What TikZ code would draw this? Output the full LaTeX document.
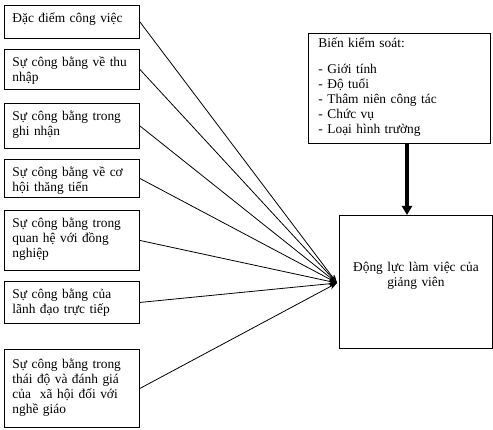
\documentclass[tikz,border=0pt]{standalone}
\usepackage{fontspec}
\setmainfont{Liberation Serif}
\usetikzlibrary{arrows.meta}
\tikzset{
  box/.style={draw, line width=0.9pt, anchor=north west, text width=119pt, align=left,
    inner xsep=8pt, inner ysep=6pt, text height=11pt},
  link/.style={line width=0.8pt, -{Stealth[length=8pt,width=6pt]}}
}
\begin{document}
\begin{tikzpicture}[x=1pt, y=-1pt, font=\fontsize{13.4}{15}\selectfont]
        \useasboundingbox (0,0) rectangle (493,430);
        % boxes
        \node [box, text depth=10pt] (b1) at (4,5) {Đặc điểm công việc};
        \node [box, text depth=17pt] (b2) at (4,49) {Sự công bằng về thu\\nhập};
        \node [box, text depth=22pt] (b3) at (4,103) {Sự công bằng trong\\ghi nhận};
        \node [box, text depth=15pt] (b4) at (4,159) {Sự công bằng về cơ\\hội thăng tiến};
        \node [box, text depth=37pt] (b5) at (4,210) {Sự công bằng trong\\quan hệ với đồng\\nghiệp};
        \node [box, text depth=19pt] (b6) at (4,281) {Sự công bằng của\\lãnh đạo trực tiếp};
        \node [box, text depth=51pt, inner ysep=8pt] (b7) at (4,349) {Sự công bằng trong\\thái độ và đánh giá\\của~ xã hội đối với\\nghề giáo};
        
        \node [box, text width=162pt, inner xsep=10pt, inner ysep=4pt, text height=10pt, text depth=92pt] (ctrl) at (308,33)
          {Biến kiểm soát:\\[11pt]- Giới tính\\- Độ tuổi\\- Thâm niên công tác\\- Chức vụ\\- Loại hình trường};
        \node [draw, line width=0.9pt, anchor=north west, minimum width=153pt, minimum height=133pt, text width=140pt,
          align=center, text height=9.5pt, text depth=30.5pt] (motiv) at (339,215) {Động lực làm việc của\\giảng viên};
        
        % lines
        \coordinate (hub) at (337,283);
        \foreach \b in {b1,b2,b3,b4,b5,b6,b7}
          \draw [link] (\b.east) -- (hub);
        \draw [line width=3.5pt, -{Triangle[length=9pt,width=10pt]}] (ctrl.south -| 407,0) -- (motiv.north -| 407,0);
    \end{tikzpicture}
\end{document}
